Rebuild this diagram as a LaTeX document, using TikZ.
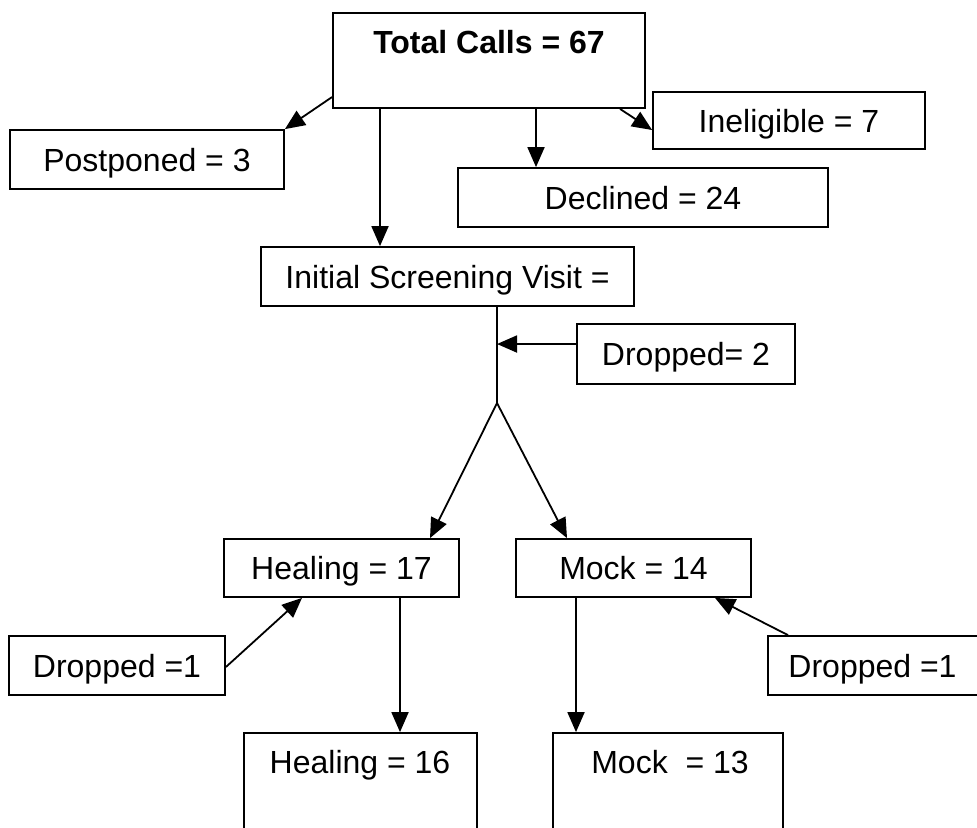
\documentclass[tikz,border=0pt]{standalone}
\usepackage{fontspec}
\setmainfont{Liberation Sans}
\usetikzlibrary{arrows.meta,fit}
\begin{document}
\begin{tikzpicture}[x=0.5pt,y=-0.5pt,
  box/.style={draw,line width=0.9pt,inner sep=0pt,text height=11.5pt,text depth=0pt,font=\fontsize{16}{19}\selectfont},
  txt/.style={inner sep=0pt,anchor=base,font=\fontsize{16}{19}\selectfont},
  arr/.style={line width=0.9pt,-{Triangle[length=10pt,width=8.5pt]}},
  ln/.style={line width=0.9pt}]
\useasboundingbox (0,0) rectangle (977,827);
\clip (0,0) rectangle (977,827);
% boxes
\node[box,fit={(333,13)(645,108)}] (tot) {};
\node[txt,font=\fontsize{16}{19}\selectfont\bfseries] (tottxt) at (489,53) {Total Calls = 67};
\node[box,minimum width=137pt,minimum height=29.5pt] (post) at (147,159.5) {Postponed = 3};
\node[box,minimum width=136pt,minimum height=28.5pt] (inel) at (789,120.5) {Ineligible = 7};
\node[box,minimum width=185pt,minimum height=29.5pt] (decl) at (643,197.5) {Declined = 24};
\node[box,minimum width=186.5pt,minimum height=29.5pt] (isv) at (447.5,276.5) {Initial Screening Visit =};
\node[box,minimum width=109pt,minimum height=30pt] (drop2) at (686,354) {Dropped= 2};
\node[box,minimum width=117.5pt,minimum height=29pt] (heal) at (341.5,568) {Healing = 17};
\node[box,minimum width=117.5pt,minimum height=29pt] (mock) at (633.5,568) {Mock = 14};
\node[box,minimum width=108pt,minimum height=29.5pt] (dropL) at (117,665.5) {Dropped =1};
\node[box,minimum width=108.5pt,minimum height=29.5pt] (dropR) at (876.5,665.5) {\hspace*{-4pt}Dropped =1};
\node[box,fit={(244,733)(477,845)}] (heal2) {};
\node[txt] (heal2txt) at (360,773) {Healing = 16};
\node[box,fit={(553,733)(783,845)}] (mock2) {};
\node[txt] (mock2txt) at (670,773) {Mock\ \ = 13};
% coordinates
\coordinate (j) at (497,403);
\coordinate (jd) at (497,344);
% connectors
\draw[arr] (tot.west |- 0,97) -- (post.north east);
\draw[arr] (tot.south -| 380,0) -- (isv.north -| 380,0);
\draw[arr] (tot.south -| 536,0) -- (decl.north -| 536,0);
\draw[arr] (tot.south -| 620,0) -- (inel.west |- 0,130);
\draw[ln] (isv.south -| j) -- (j);
\draw[arr] (drop2.west |- jd) -- (jd);
\draw[arr] (j) -- (heal.north -| 430,0);
\draw[arr] (j) -- (mock.north -| 567,0);
\draw[arr] (heal.south -| 400,0) -- (heal2.north -| 400,0);
\draw[arr] (mock.south -| 576,0) -- (mock2.north -| 576,0);
\draw[arr] (dropL.east |- 0,667) -- (heal.south -| 302,0);
\draw[arr] (dropR.north -| 788,0) -- (mock.south -| 715,0);
\end{tikzpicture}
\end{document}
